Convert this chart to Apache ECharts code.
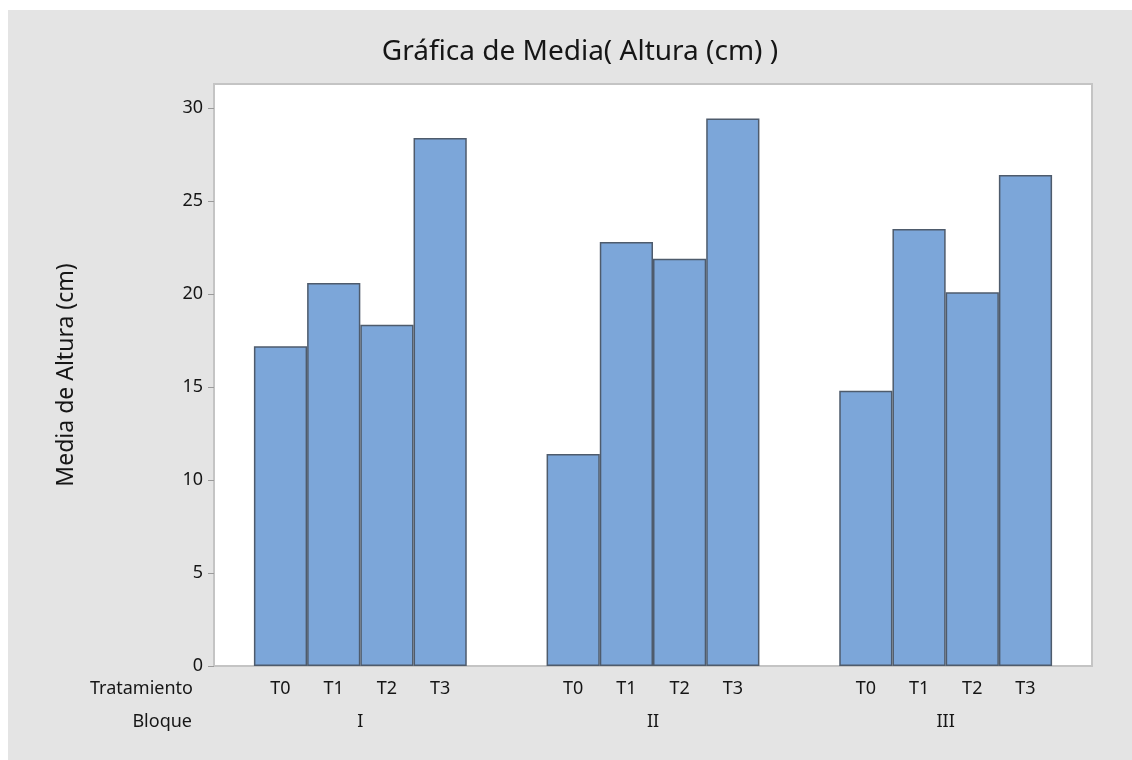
<!DOCTYPE html>
<html>
<head>
<meta charset="utf-8">
<script src="https://cdn.jsdelivr.net/npm/echarts@6/dist/echarts.min.js"></script>
<style>
  html, body { margin: 0; padding: 0; background: #ffffff; }
  #chart { position: absolute; left: 8px; top: 10px; width: 1124px; height: 750px; }
</style>
</head>
<body>
<div id="chart"></div>
<script>
// datos
const bloques = ['I', 'II', 'III'];
const tratamientos = ['T0', 'T1', 'T2', 'T3'];
const mediaT0 = [17.2, 11.4, 14.8];
const mediaT1 = [20.6, 22.8, 23.5];
const mediaT2 = [18.35, 21.9, 20.1];
const mediaT3 = [28.4, 29.45, 26.4];
const yTicks = [0, 5, 10, 15, 20, 25, 30];

const medias = [mediaT0, mediaT1, mediaT2, mediaT3];
const fuente = "'Noto Sans', 'Open Sans', sans-serif";
const colorTexto = '#161616';

// eje auxiliar: 11 huecos por bloque, tratamiento en los huecos 2,4,6,8
const huecos = [];
bloques.forEach(() => {
  huecos.push('', '');
  tratamientos.forEach(t => huecos.push(t, ''));
  huecos.push('');
});

const chart = echarts.init(document.getElementById('chart'));

const option = {
  backgroundColor: '#e4e4e4',
  animation: false,
  title: {
    text: 'Gráfica de Media( Altura (cm) )',
    left: 567,
    top: 23,
    textAlign: 'center',
    textStyle: { fontFamily: fuente, fontSize: 28, fontWeight: 'normal', color: colorTexto }
  },
  grid: {
    left: 206, right: 40, top: 74, bottom: 94,
    show: true,
    backgroundColor: '#ffffff',
    borderColor: '#c4c4c4',
    borderWidth: 2
  },
  xAxis: [
    {
      type: 'category',
      data: bloques,
      axisLine: { show: false },
      axisTick: { show: false },
      axisLabel: { margin: 47, fontFamily: fuente, fontSize: 18, color: colorTexto }
    },
    {
      type: 'category',
      data: huecos,
      position: 'bottom',
      axisLine: { show: false },
      axisTick: {
        alignWithLabel: true,
        length: 6,
        interval: (i, v) => v !== '',
        lineStyle: { color: '#9a9a9a' }
      },
      axisLabel: { interval: 0, margin: 14, fontFamily: fuente, fontSize: 18, color: colorTexto }
    }
  ],
  yAxis: {
    type: 'value',
    min: 0,
    max: 31.3,
    interval: 5,
    name: 'Media de Altura (cm)',
    nameLocation: 'middle',
    nameGap: 136,
    nameTextStyle: { fontFamily: fuente, fontSize: 23, color: colorTexto },
    splitLine: { show: false },
    axisLine: { show: false },
    axisTick: { show: true, length: 6, customValues: yTicks, lineStyle: { color: '#9a9a9a' } },
    axisLabel: { customValues: yTicks, margin: 11, fontFamily: fuente, fontSize: 18, color: colorTexto }
  },
  graphic: [
    {
      type: 'text', right: 1124 - 185, top: 670,
      style: { text: 'Tratamiento', font: '18px ' + fuente, fill: colorTexto, textAlign: 'right' }
    },
    {
      type: 'text', right: 1124 - 184, top: 703,
      style: { text: 'Bloque', font: '18px ' + fuente, fill: colorTexto, textAlign: 'right' }
    }
  ],
  series: tratamientos.map((t, i) => ({
    name: t,
    type: 'bar',
    xAxisIndex: 0,
    data: medias[i],
    barGap: '0%',
    barCategoryGap: (300 / 11) + '%',
    itemStyle: { color: '#7ca6d9', borderColor: '#4e5b6c', borderWidth: 1.5 }
  }))
};

chart.setOption(option);
</script>
</body>
</html>
